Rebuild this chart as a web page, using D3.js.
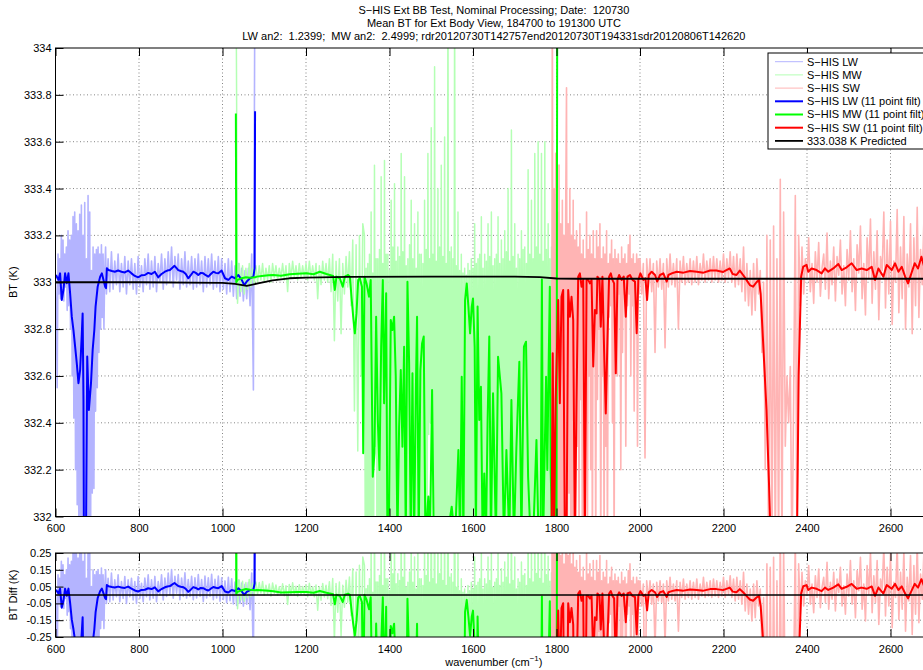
<!DOCTYPE html>
<html>
<head>
<meta charset="utf-8">
<script src="https://cdn.jsdelivr.net/npm/d3@7/dist/d3.min.js"></script>
<style>
  html, body { margin: 0; padding: 0; background: #fff; }
  svg { display: block; font-family: "Liberation Sans", Arial, Helvetica, sans-serif; }
  svg text { white-space: pre; }
</style>
</head>
<body>
<svg id="fig" width="923" height="670"></svg>
<script>
// ------------------------------------------------------------------
// Text
// ------------------------------------------------------------------
const titleLines = [
  "S\u2212HIS Ext BB Test, Nominal Processing; Date:  120730",
  "Mean BT for Ext Body View, 184700 to 191300 UTC",
  "LW an2:  1.2399;  MW an2:  2.4999; rdr20120730T142757end20120730T194331sdr20120806T142620"
];
const legendLabels = [
  "S\u2212HIS LW", "S\u2212HIS MW", "S\u2212HIS SW",
  "S\u2212HIS LW (11 point filt)", "S\u2212HIS MW (11 point filt)", "S\u2212HIS SW (11 point filt)",
  "333.038 K Predicted"
];

// ------------------------------------------------------------------
// Axis ticks
// ------------------------------------------------------------------
const wnDomain = [600, 2700];
const xTicks = [600, 800, 1000, 1200, 1400, 1600, 1800, 2000, 2200, 2400, 2600];
const btDomain = [332, 334];
const btTicks = [332, 332.2, 332.4, 332.6, 332.8, 333, 333.2, 333.4, 333.6, 333.8, 334];
const diffDomain = [-0.25, 0.25];
const diffTicks = [-0.25, -0.15, -0.05, 0.05, 0.15, 0.25];

// ------------------------------------------------------------------
// Predicted blackbody BT (K)
// ------------------------------------------------------------------
const predWn = [600, 800, 1000, 1030, 1058, 1085, 1120, 1160, 1200, 1300, 1500, 1700, 1760, 1800, 1850, 2700];
const predBt = [333.0, 333.0, 332.997, 332.993, 332.985, 332.995, 333.008, 333.017, 333.02, 333.023, 333.024, 333.024, 333.022, 333.016, 333.015, 333.015];

// ------------------------------------------------------------------
// Measured BT, full resolution
// ------------------------------------------------------------------
// LW, CO2 band 600-720 cm-1 every 2 cm-1
const lwBandStart = 600, lwBandStep = 2;
const lwBand = [
  333.02,332.90,332.55,333.12,332.95,333.10,332.93,333.20,332.96,333.18,
  332.92,333.12,332.98,333.15,332.88,333.22,332.90,333.18,332.80,333.20,
  332.60,333.28,332.42,333.30,332.20,333.25,332.05,333.22,331.85,333.29,
  331.85,333.33,331.85,333.20,331.85,333.34,331.85,333.10,331.85,333.37,
  331.85,333.30,331.85,333.05,332.10,333.15,332.12,333.12,332.45,333.14,
  332.55,333.15,332.70,333.12,332.80,333.16,332.85,333.12,332.80,333.05,
  333.15
];
// LW window, 722-1078 cm-1 every 4 cm-1
const lwRawStart = 722, lwRawStep = 4;
const lwRaw = [
  332.95,333.10,332.96,333.13,332.97,333.09,332.99,333.12,332.96,
  333.08,332.98,333.11,332.95,333.09,332.99,333.10,332.97,333.08,332.95,
  333.11,332.98,333.07,332.96,333.10,332.99,333.12,332.97,333.09,332.98,
  333.11,332.96,333.08,333.00,333.12,332.97,333.10,332.99,333.13,333.00,
  333.15,332.98,333.11,333.01,333.12,332.97,333.10,332.99,333.13,332.98,
  333.09,332.99,333.11,332.97,333.10,332.98,333.12,332.99,333.09,332.96,
  333.11,332.98,333.10,332.99,333.12,332.97,333.09,332.98,333.11,332.96,
  333.10,332.97,333.08,332.95,333.10,332.96,333.09,332.94,333.07,332.93,
  333.08,332.94,333.06,332.92,333.05,332.93,333.06,332.90,333.12,332.54,
  334.50
];

// MW window edge, 1032-1336 cm-1 every 4 cm-1
const mwRawStart = 1032, mwRawStep = 4;
const mwRaw = [
  334.50,332.91,333.08,332.96,333.07,332.95,333.06,332.97,333.08,332.98,
  333.06,332.99,333.07,333.00,333.07,333.01,333.08,333.00,333.06,333.01,
  333.07,333.00,333.08,333.02,333.07,333.01,333.06,333.02,333.08,333.01,
  333.07,332.96,333.08,333.02,333.09,333.02,333.07,333.01,333.08,333.02,
  333.07,333.02,333.08,333.01,333.09,333.02,333.07,333.01,333.08,332.93,
  333.07,332.99,333.09,333.01,333.08,333.00,333.10,332.96,333.12,332.75,
  333.09,332.92,333.10,332.78,333.08,332.95,333.11,332.98,333.13,332.90,
  333.18,332.45,333.16,332.28,333.20,332.60,333.25
];
// MW water band, 1340-1802 cm-1 every 2 cm-1
const mwBandStart = 1340, mwBandStep = 2;
const mwBand = [
  333.20,331.8,333.06,331.8, 333.08,331.8,333.12,331.8,
  333.30,331.8,333.04,331.8, 333.50,332.3,333.10,331.8,
  333.10,331.8,333.14,331.8, 333.45,331.8,333.08,331.8,
  333.52,331.8,333.12,331.8, 333.12,331.8,333.05,331.8,
  333.35,331.8,333.15,331.8, 333.42,331.8,333.09,331.8,
  333.15,331.8,333.11,331.8, 333.55,331.8,333.13,331.8,
  333.45,331.8,333.07,331.8, 333.10,331.8,333.16,331.8,
  333.35,331.8,333.10,331.8, 333.25,331.8,333.06,331.8,
  333.30,331.8,333.12,331.8, 333.12,331.8,333.08,331.8,
  333.35,331.8,333.14,331.8, 333.55,332.35,333.10,332.4,
  333.66,332.35,333.12,331.8, 333.92,331.8,333.09,331.8,
  333.40,331.8,333.15,331.8, 333.50,331.8,333.11,331.8,
  333.62,331.8,333.08,331.8, 334.30,331.8,333.13,331.8,
  333.15,331.8,333.10,331.8, 334.30,331.8,333.07,331.8,
  333.30,331.8,333.05,331.8, 333.12,331.8,333.04,331.8,
  333.06,331.8,333.03,331.8, 333.08,331.8,333.05,331.8,
  333.10,331.8,333.06,331.8, 333.25,331.8,333.08,331.8,
  333.10,331.8,333.12,331.8, 333.28,331.8,333.06,331.8,
  333.12,331.8,333.09,331.8, 333.25,331.8,333.11,331.8,
  333.30,331.8,333.07,331.8, 333.10,331.8,333.12,331.8,
  333.28,331.8,333.08,331.8, 333.18,331.8,333.10,331.8,
  333.22,331.8,333.13,331.8, 333.40,331.8,333.09,331.8,
  333.65,331.8,333.11,331.8, 333.25,331.8,333.06,331.8,
  333.12,331.8,333.10,331.8, 333.22,331.8,333.14,331.8,
  333.15,331.8,333.08,331.8, 333.48,331.8,333.12,331.8,
  333.35,331.8,333.10,331.8, 333.55,331.8,333.15,331.8,
  333.60,331.8,333.12,331.8, 333.55,331.8,333.09,331.8,
  333.60,331.8,333.14,331.8, 333.25,331.8,333.10,331.8,
  333.15,331.8,333.08,331.8, 333.30,331.8,333.06,331.8
];

// SW band edge, 1788-1998 cm-1 every 2 cm-1
const swBandStart = 1788, swBandStep = 2;
const swBand = [
  331.5,334.3,331.8,333.40,331.8,333.55,331.9,333.30,331.8,333.50,
  331.8,333.25,331.9,333.35,331.8,333.20,331.8,333.30,333.83,331.8,
  333.25,332.1,333.40,331.8,333.20,331.9,333.35,331.8,333.18,331.8,
  333.22,332.3,333.15,331.8,333.25,332.5,333.12,331.8,333.18,331.8,
  333.10,332.4,333.30,331.8,333.14,332.6,333.20,332.2,333.12,331.8,
  333.22,332.7,333.10,331.8,333.22,332.5,333.15,332.8,333.25,331.8,
  333.10,332.6,333.15,331.8,333.12,332.3,333.22,331.8,333.08,332.85,
  333.12,332.9,333.18,332.4,333.10,331.8,333.14,332.85,333.10,332.6,
  333.12,332.95,333.08,332.2,333.15,332.7,333.10,332.95,333.12,332.3,
  333.08,332.9,333.16,332.95,333.20,332.6,333.10,332.9,333.12,332.45,
  333.08,332.92,333.12,332.3,333.10,332.95
];
// SW window, 2000-2700 cm-1 every 4 cm-1
const swRawStart = 2000, swRawStep = 4;
const swRaw = [
  333.10,332.95,333.08,332.25,333.10,332.98,333.10,
  332.96,333.08,332.70,333.09,332.98,333.10,332.97,333.08,332.72,333.10,
  332.98,333.12,332.99,333.08,332.98,333.10,332.80,333.09,333.00,333.11,
  332.99,333.08,333.00,333.10,332.99,333.09,333.00,333.11,332.99,333.08,
  333.01,333.12,333.00,333.09,333.01,333.10,333.00,333.11,333.01,333.10,
  333.00,333.09,333.01,333.12,333.00,333.10,333.02,333.13,333.00,333.11,
  332.98,333.12,332.99,333.10,332.96,333.15,332.92,333.08,332.90,333.05,
  332.86,333.08,332.88,333.10,332.95,333.05,332.70,333.00,332.20,333.20,
  331.8,333.18,331.8,333.24,331.8,333.10,331.8,333.44,331.8,333.30,
  332.30,332.60,332.40,332.64,331.8,332.50,333.37,331.8,333.20,332.90,
  333.15,332.95,333.10,333.02,333.19,332.96,333.08,332.91,333.13,333.00,
  333.17,332.94,333.06,333.12,332.97,333.21,332.93,333.09,332.99,333.15,
  332.92,333.11,333.03,333.18,332.95,333.07,332.90,333.14,333.01,333.22,
  332.96,333.10,332.88,333.16,333.04,333.24,332.93,333.08,332.86,333.19,
  333.02,333.27,332.91,333.13,332.97,333.22,332.84,333.11,333.05,333.30,
  332.89,333.18,332.95,333.26,332.82,333.09,333.00,333.31,332.87,333.15,
  332.93,333.28,332.80,333.12,332.98,333.25,332.78,333.19,332.90,333.32,
  332.85,333.14,332.99,333.27,332.81,333.20,332.92,333.29,332.86
];

// ------------------------------------------------------------------
// 11 point filtered BT (wavenumber, BT pairs)
// ------------------------------------------------------------------
const lwFiltWn = [601,607,611,615,619,623,627,631,635,639,643,647,651,655,659,663,665,667,668,673,
  676,680,685,689,693,696,701,707,711,715,719,721,723,727,735,742,750,758,766,774,
  782,790,798,806,814,822,830,838,846,854,862,868,874,880,885,890,894,900,906,912,
  918,924,930,936,942,948,954,960,966,972,978,984,990,998,1006,1014,1022,1030,1038,1046,
  1052,1058,1066,1074,1077,1078];
const lwFiltBt = [333.031,333.010,333.038,332.924,332.967,333.038,332.996,333.038,332.953,332.853,
  332.796,332.725,332.654,332.569,332.626,332.78,332.867,332.5,331.9,331.9,
  332.683,332.455,332.569,332.711,332.796,332.896,332.981,333.024,333.038,333.010,
  332.981,332.975,333.060,333.052,333.048,333.045,333.050,333.045,333.042,333.050,
  333.038,333.027,333.021,333.030,333.031,333.040,333.035,333.045,333.021,333.035,
  333.045,333.050,333.052,333.062,333.070,333.060,333.052,333.048,333.045,333.035,
  333.017,333.030,333.045,333.040,333.031,333.040,333.038,333.030,333.024,333.035,
  333.045,333.040,333.038,333.050,333.017,333.010,333.024,333.017,333.031,333.010,
  332.988,333.003,333.017,333.024,333.060,333.73];

const mwFiltWn = [1032,1033,1036,1046,1056,1066,1078,1082,1094,1110,1122,1140,1161,1180,1201,1218,1233,1249,1265,1269,
  1273,1281,1288,1293,1301,1305,1309,1313,1317,1321,1325,1329,1334,1337,1340,1345,1351,1355,1360,1364,
  1368,1372,1376,1380,1384,1387,1392,1395,1399,1403,1407,1411,1415,1419,1423,1427,1431,1435,1439,1443,
  1447,1451,1455,1459,1463,1466,1470,1474,1478,1482,1486,1493,1497,1502,1506,1513,1521,1529,1537,1549,
  1557,1565,1569,1573,1577,1581,1585,1589,1593,1597,1600,1604,1607,1611,1615,1619,1623,1627,1631,1635,
  1639,1643,1648,1655,1660,1668,1674,1680,1687,1692,1698,1704,1711,1716,1722,1727,1732,1738,1744,1752,
  1757,1762,1765,1768,1775,1778,1781,1784,1786,1790,1795,1800,1802];
const mwFiltBt = [333.72,333.0,333.010,333.017,333.021,333.019,333.021,333.024,333.027,333.030,333.031,333.028,333.034,333.036,333.038,333.034,333.045,333.035,333.027,332.967,
  333.024,333.017,332.981,333.024,333.031,333.024,332.938,332.853,332.782,332.867,333.010,333.017,332.981,332.270,333.024,332.995,332.938,333.010,332.170,332.270,
  332.853,332.412,332.199,332.725,333.010,332.483,332.953,331.9,332.042,332.839,332.796,332.853,332.597,331.9,332.383,332.625,332.298,332.725,331.9,333.002,
  332.654,331.9,332.611,331.9,332.526,332.853,331.9,332.625,332.739,332.768,331.9,332.085,331.9,332.540,331.9,331.9,331.9,331.9,331.9,332.042,
  331.9,332.284,331.9,332.597,331.9,332.924,332.995,332.896,332.782,332.896,332.931,332.725,331.9,332.896,332.412,332.554,331.9,332.184,331.9,332.412,
  332.768,331.9,332.526,331.9,332.682,332.526,331.9,332.284,331.9,332.497,331.9,332.298,332.661,331.9,332.725,332.746,332.170,331.9,331.9,332.327,
  331.9,331.9,333.012,331.9,332.597,332.199,332.625,332.981,332.199,331.9,332.3,331.9,334.5];

const swFiltWn = [1788,1791,1794,1798,1804,1808,1812,1816,1820,1824,1828,1832,1836,1840,1844,1848,1852,1856,1860,1864,
  1868,1872,1876,1880,1884,1888,1892,1896,1898,1903,1906,1910,1914,1918,1922,1926,1930,1934,1938,1942,
  1946,1950,1956,1961,1966,1970,1976,1982,1988,1992,1996,2001,2008,2013,2017,2021,2028,2036,2041,2048,
  2056,2064,2068,2076,2088,2104,2120,2136,2152,2168,2183,2199,2215,2222,2231,2239,2247,2255,2263,2271,
  2279,2285,2289,2295,2303,2309,2313,2376,2380,2386,2391,2399,2403,2411,2423,2435,2443,2451,2463,2475,
  2483,2495,2507,2519,2531,2543,2555,2563,2571,2583,2591,2603,2611,2619,2627,2635,2642,2650,2658,2666,
  2674,2680,2690,2700];
const swFiltBt = [331.9,332.697,331.9,332.497,332.924,332.483,332.938,332.967,331.9,331.9,332.967,332.853,332.938,332.839,331.9,332.497,333.024,333.038,332.981,333.010,
  331.9,333.010,333.010,332.995,333.010,332.640,332.882,332.867,333.024,333.010,332.810,333.024,332.711,332.440,332.753,333.024,333.038,333.010,332.995,332.611,
  333.010,333.031,333.010,333.024,332.853,333.024,333.031,333.010,333.003,332.782,333.010,333.038,333.010,333.017,332.924,333.031,333.045,333.031,333.003,333.031,
  333.038,333.003,333.031,333.038,333.045,333.041,333.048,333.045,333.041,333.050,333.050,333.044,333.059,333.035,333.031,333.050,333.031,333.010,332.988,332.981,
  333.000,333.010,332.95,332.74,332.455,332.14,331.9,331.9,332.6,333.024,333.067,333.074,333.045,333.059,333.052,333.038,333.059,333.045,333.059,333.078,
  333.052,333.064,333.081,333.052,333.059,333.052,333.066,333.010,333.059,333.024,333.074,333.052,333.081,333.045,333.066,333.024,332.995,333.038,333.081,333.059,
  333.109,333.07,333.05,333.06];

// ------------------------------------------------------------------
// Series assembly
// ------------------------------------------------------------------
const sampled = (start, step, vals) => vals.map((v, i) => [start + i * step, v]);
const paired = (wn, bt) => wn.map((w, i) => [w, bt[i]]);

const predAt = d3.scaleLinear().domain(predWn).range(predBt).clamp(true);

const series = [
  { pts: sampled(lwBandStart, lwBandStep, lwBand).concat(sampled(lwRawStart, lwRawStep, lwRaw)),
    color: "#b4b4ff", width: 1.6, legendWidth: 1 },
  { pts: sampled(mwRawStart, mwRawStep, mwRaw).concat(sampled(mwBandStart, mwBandStep, mwBand)),
    color: "#b4ffb4", width: 1.5, legendWidth: 1 },
  { pts: sampled(swBandStart, swBandStep, swBand).concat(sampled(swRawStart, swRawStep, swRaw)),
    color: "#ffb4b4", width: 1.6, legendWidth: 1 },
  { pts: paired(lwFiltWn, lwFiltBt), color: "#0000ff", width: 2, legendWidth: 2 },
  { pts: paired(mwFiltWn, mwFiltBt), color: "#00ff00", width: 2, legendWidth: 2 },
  { pts: paired(swFiltWn, swFiltBt), color: "#ff0000", width: 2, legendWidth: 2 },
  { pts: paired(predWn, predBt), color: "#000000", width: 1.8, legendWidth: 1.8 }
];

// ------------------------------------------------------------------
// Layout and scales
// ------------------------------------------------------------------
const svg = d3.select("#fig");
const FONT = "11px";
const x = d3.scaleLinear().domain(wnDomain).range([55.5, 932.25]);
const yTop = d3.scaleLinear().domain(btDomain).range([516.5, 48]);
const yBot = d3.scaleLinear().domain(diffDomain).range([637, 553]);
const xMid = (x.range()[0] + x.range()[1]) / 2;

const defs = svg.append("defs");

function drawPanel(id, y, yTicks, yFmt, lines) {
  const [yb, yt] = y.range();
  const [xl, xr] = x.range();
  const g = svg.append("g").attr("class", id);

  defs.append("clipPath").attr("id", id + "-clip")
    .append("rect").attr("x", xl).attr("y", yt).attr("width", xr - xl).attr("height", yb - yt);

  // dotted grid
  const grid = g.append("g").attr("stroke", "#333").attr("stroke-width", 0.6)
    .attr("stroke-dasharray", "1,2.5");
  grid.selectAll("line.gx").data(xTicks.filter(t => t > wnDomain[0])).join("line")
    .attr("x1", d => x(d)).attr("x2", d => x(d)).attr("y1", yt).attr("y2", yb);
  grid.selectAll("line.gy").data(yTicks.filter(t => t > y.domain()[0] && t < y.domain()[1])).join("line")
    .attr("x1", xl).attr("x2", xr).attr("y1", d => y(d)).attr("y2", d => y(d));

  // data
  const lg = g.append("g").attr("clip-path", `url(#${id}-clip)`);
  const line = d3.line().x(d => x(d[0])).y(d => y(d[1]));
  lines.forEach(s => {
    lg.append("path").attr("d", line(s.pts)).attr("fill", "none")
      .attr("stroke", s.color).attr("stroke-width", s.width)
      .attr("stroke-linejoin", "round");
  });

  // axes with inward ticks
  const style = a => a.call(s => s.select(".domain").remove())
    .attr("font-family", null).attr("font-size", FONT)
    .call(s => s.selectAll(".tick line").attr("stroke", "#000").attr("stroke-width", 1))
    .call(s => s.selectAll(".tick text").attr("fill", "#000"));

  g.append("g").attr("transform", `translate(0,${yb})`)
    .call(d3.axisBottom(x).tickValues(xTicks).tickFormat(d3.format("d")).tickSize(-8).tickPadding(8))
    .call(style);
  g.append("g").attr("transform", `translate(0,${yt})`)
    .call(d3.axisTop(x).tickValues(xTicks).tickFormat("").tickSize(-8))
    .call(style);
  g.append("g").attr("transform", `translate(${xl},0)`)
    .call(d3.axisLeft(y).tickValues(yTicks).tickFormat(yFmt).tickSize(-8).tickPadding(4))
    .call(style);
  g.append("g").attr("transform", `translate(${xr},0)`)
    .call(d3.axisRight(y).tickValues(yTicks).tickFormat("").tickSize(-8))
    .call(style);

  g.append("rect").attr("x", xl).attr("y", yt).attr("width", xr - xl).attr("height", yb - yt)
    .attr("fill", "none").attr("stroke", "#000").attr("stroke-width", 1);
  return g;
}

// upper panel: BT
drawPanel("bt", yTop, btTicks, d => String(+d.toFixed(1)), series);

// lower panel: BT minus predicted
const diffSeries = series.map((s, i) => ({
  color: s.color, width: i === 6 ? 1.5 : s.width,
  pts: s.pts.map(([w, v]) => [w, v - predAt(w)])
}));
drawPanel("diff", yBot, diffTicks, d => d.toFixed(2), diffSeries);

// titles and labels
svg.append("g").attr("font-size", FONT).attr("text-anchor", "middle")
  .selectAll("text").data(titleLines).join("text")
  .attr("x", xMid).attr("y", (d, i) => 14 + i * 13).text(d => d);

svg.append("text").attr("font-size", FONT).attr("text-anchor", "middle")
  .attr("transform", `translate(17,${(yTop.range()[0] + yTop.range()[1]) / 2}) rotate(-90)`)
  .text("BT (K)");
svg.append("text").attr("font-size", FONT).attr("text-anchor", "middle")
  .attr("transform", `translate(17,${(yBot.range()[0] + yBot.range()[1]) / 2}) rotate(-90)`)
  .text("BT Diff (K)");

const xl = svg.append("text").attr("font-size", FONT).attr("text-anchor", "middle")
  .attr("x", xMid).attr("y", 666);
xl.append("tspan").text("wavenumber (cm");
xl.append("tspan").attr("font-size", "8px").attr("dy", -5).text("\u22121");
xl.append("tspan").attr("dy", 5).text(")");

// legend
const leg = svg.append("g").attr("transform", "translate(768,53)");
leg.append("rect").attr("width", 175).attr("height", 96)
  .attr("fill", "#fff").attr("stroke", "#000").attr("stroke-width", 1);
const items = leg.selectAll("g.item").data(legendLabels).join("g")
  .attr("transform", (d, i) => `translate(0,${8.7 + i * 13.2})`);
items.append("line").attr("x1", 7).attr("x2", 35)
  .attr("stroke", (d, i) => series[i].color)
  .attr("stroke-width", (d, i) => series[i].legendWidth);
items.append("text").attr("x", 39).attr("dy", "0.35em").attr("font-size", FONT).text(d => d);
</script>
</body>
</html>
